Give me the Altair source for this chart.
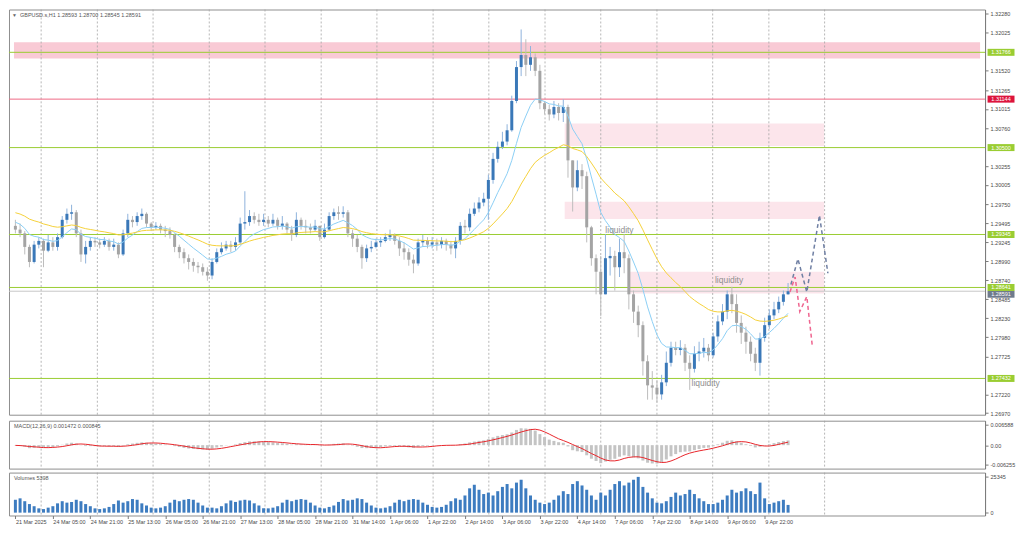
import json
import altair as alt
import pandas as pd
import numpy as np

# ---------------- data (GBPUSD, 2-hour candles) ----------------
first_open = 1.2946
close = [1.2941, 1.2936, 1.2918, 1.2898, 1.2921, 1.2926, 1.2913, 1.2924, 1.2918, 1.2931,
         1.2954, 1.2962, 1.2964, 1.2936, 1.2908, 1.2918, 1.2926, 1.2924, 1.2921, 1.2926,
         1.2918, 1.2921, 1.2908, 1.2936, 1.2954, 1.2951, 1.2959, 1.2962, 1.2949, 1.2944,
         1.2946, 1.2941, 1.2939, 1.2934, 1.2918, 1.2911, 1.2903, 1.2898, 1.2893, 1.2891,
         1.2885, 1.2880, 1.2898, 1.2911, 1.2916, 1.2921, 1.2918, 1.2924, 1.2949, 1.2951,
         1.2959, 1.2954, 1.2951, 1.2954, 1.2949, 1.2954, 1.2946, 1.2949, 1.2941, 1.2934,
         1.2954, 1.2946, 1.2944, 1.2941, 1.2946, 1.2931, 1.2941, 1.2959, 1.2964, 1.2962,
         1.2964, 1.2936, 1.2929, 1.2918, 1.2903, 1.2916, 1.2918, 1.2924, 1.2926, 1.2931,
         1.2934, 1.2926, 1.2916, 1.2911, 1.2901, 1.2896, 1.2924, 1.2926, 1.2921, 1.2924,
         1.2921, 1.2926, 1.2921, 1.2916, 1.2926, 1.2946, 1.2944, 1.2962, 1.2969, 1.2977,
         1.2982, 1.3007, 1.3035, 1.3051, 1.3058, 1.3073, 1.3112, 1.3157, 1.3173, 1.3160,
         1.3170, 1.3152, 1.3109, 1.3101, 1.3094, 1.3104, 1.3096, 1.3104, 1.3033, 1.2997,
         1.3020, 1.3012, 1.2944, 1.2903, 1.2885, 1.2855, 1.2903, 1.2906, 1.2891, 1.2911,
         1.2903, 1.2855, 1.2832, 1.2814, 1.2766, 1.2734, 1.2731, 1.2722, 1.2738, 1.2764,
         1.2784, 1.2781, 1.2784, 1.2764, 1.2756, 1.2776, 1.2779, 1.2784, 1.2774, 1.2799,
         1.2819, 1.2832, 1.2855, 1.2842, 1.2817, 1.2804, 1.2792, 1.2776, 1.2764, 1.2797,
         1.2814, 1.2827, 1.2835, 1.2845, 1.2855, 1.28591]
high = [1.2954, 1.2949, 1.2939, 1.2921, 1.2926, 1.2931, 1.2929, 1.2934, 1.2931, 1.2936,
        1.2959, 1.2969, 1.2974, 1.2967, 1.2941, 1.2926, 1.2931, 1.2931, 1.2929, 1.2931,
        1.2929, 1.2929, 1.2924, 1.2941, 1.2962, 1.2959, 1.2964, 1.2969, 1.2964, 1.2951,
        1.2951, 1.2949, 1.2946, 1.2944, 1.2936, 1.2921, 1.2916, 1.2908, 1.2903, 1.2898,
        1.2896, 1.2891, 1.2903, 1.2916, 1.2924, 1.2926, 1.2926, 1.2931, 1.2957, 1.2992,
        1.2967, 1.2964, 1.2962, 1.2962, 1.2959, 1.2962, 1.2957, 1.2959, 1.2951, 1.2946,
        1.2964, 1.2957, 1.2954, 1.2949, 1.2954, 1.2946, 1.2949, 1.2964, 1.2969, 1.2972,
        1.2972, 1.2967, 1.2941, 1.2934, 1.2921, 1.2921, 1.2926, 1.2929, 1.2931, 1.2936,
        1.2941, 1.2936, 1.2931, 1.2924, 1.2916, 1.2908, 1.2929, 1.2934, 1.2931, 1.2931,
        1.2929, 1.2931, 1.2929, 1.2926, 1.2931, 1.2951, 1.2954, 1.2969, 1.2977, 1.2984,
        1.2990, 1.3014, 1.3043, 1.3058, 1.3071, 1.3081, 1.3119, 1.3165, 1.3207, 1.3194,
        1.3185, 1.3175, 1.3160, 1.3112, 1.3107, 1.3112, 1.3109, 1.3114, 1.3107, 1.3033,
        1.3033, 1.3028, 1.3018, 1.2946, 1.2908, 1.2906, 1.2935, 1.2918, 1.2913, 1.2929,
        1.2935, 1.2908, 1.2860, 1.2840, 1.2819, 1.2774, 1.2753, 1.2741, 1.2748, 1.2779,
        1.2792, 1.2792, 1.2794, 1.2789, 1.2774, 1.2786, 1.2792, 1.2797, 1.2789, 1.2804,
        1.2827, 1.2842, 1.2860, 1.2865, 1.2855, 1.2827, 1.2812, 1.2799, 1.2784, 1.2804,
        1.2824, 1.2835, 1.2845, 1.2852, 1.2860, 1.28700]
low = [1.2936, 1.2931, 1.2908, 1.2891, 1.2896, 1.2916, 1.2891, 1.2911, 1.2913, 1.2913,
       1.2929, 1.2949, 1.2954, 1.2931, 1.2898, 1.2896, 1.2913, 1.2918, 1.2916, 1.2918,
       1.2913, 1.2913, 1.2903, 1.2906, 1.2931, 1.2944, 1.2946, 1.2954, 1.2944, 1.2939,
       1.2941, 1.2936, 1.2931, 1.2929, 1.2911, 1.2903, 1.2896, 1.2888, 1.2885, 1.2883,
       1.2880, 1.2873, 1.2875, 1.2896, 1.2908, 1.2913, 1.2911, 1.2913, 1.2921, 1.2941,
       1.2946, 1.2949, 1.2946, 1.2946, 1.2944, 1.2946, 1.2941, 1.2941, 1.2936, 1.2926,
       1.2931, 1.2941, 1.2936, 1.2936, 1.2939, 1.2926, 1.2929, 1.2939, 1.2954, 1.2954,
       1.2957, 1.2931, 1.2918, 1.2911, 1.2889, 1.2898, 1.2911, 1.2916, 1.2918, 1.2924,
       1.2926, 1.2921, 1.2906, 1.2901, 1.2893, 1.2883, 1.2893, 1.2918, 1.2916, 1.2916,
       1.2913, 1.2916, 1.2913, 1.2908, 1.2903, 1.2921, 1.2936, 1.2939, 1.2959, 1.2964,
       1.2972, 1.2954, 1.3002, 1.3030, 1.3048, 1.3053, 1.3071, 1.3109, 1.3145, 1.3145,
       1.3152, 1.3145, 1.3101, 1.3094, 1.3086, 1.3089, 1.3086, 1.3084, 1.3010, 1.2965,
       1.2992, 1.2995, 1.2924, 1.2893, 1.2855, 1.2826, 1.2855, 1.2880, 1.2860, 1.2878,
       1.2883, 1.2835, 1.2817, 1.2798, 1.2747, 1.2715, 1.2715, 1.2711, 1.2715, 1.2733,
       1.2759, 1.2774, 1.2774, 1.2753, 1.2728, 1.2751, 1.2766, 1.2771, 1.2766, 1.2771,
       1.2792, 1.2814, 1.2822, 1.2830, 1.2804, 1.2789, 1.2776, 1.2766, 1.2753, 1.2747,
       1.2792, 1.2809, 1.2822, 1.2830, 1.2840, 1.28545]
volume = [9000, 10000, 8000, 6000, 4500, 3000,
          2500, 3500, 4500, 6500, 8000, 7000, 7500, 9000, 8000, 6000, 4500, 3000,
          2500, 3000, 4000, 6000, 8500, 7000, 8000, 9500, 9000, 6500, 5000, 3500,
          3000, 3500, 4500, 7000, 9000, 8000, 9000, 9500, 9000, 7000, 5000, 3500,
          3500, 3000, 4500, 6500, 8500, 7500, 8500, 9000, 8500, 6500, 5000, 3000,
          3000, 3500, 4500, 7000, 9000, 8000, 9000, 9500, 9000, 7000, 5000, 3500,
          3000, 4000, 5000, 7500, 9500, 8500, 9000, 10000, 9500, 7000, 5000, 3500,
          3000, 3500, 4500, 7000, 9000, 8000, 9000, 9500, 9000, 7000, 5500, 4000,
          3500, 4000, 5500, 8000, 10000, 9000, 12000, 17000, 19500, 16000, 13000,
          14000, 12000, 15000, 18000, 20000, 17000, 21000, 23000, 17000, 12000, 9000, 7000,
          6000, 7000, 9000, 12000, 15000, 13000, 20000, 22000, 19000, 16000, 12000, 9000,
          14000, 12000, 16000, 20000, 22000, 19000, 21000, 23000, 25000, 18000, 14000, 10000,
          7000, 6500, 8000, 11000, 14000, 12000, 13000, 16000, 13000, 10000, 8000, 6000,
          6000, 7000, 9000, 12000, 16000, 14000, 15000, 17000, 15000, 13000, 21000, 10000,
          6000, 7000, 8000, 9000, 5398]

time_labels = ["21 Mar 2025", "24 Mar 05:00", "24 Mar 21:00", "25 Mar 13:00", "26 Mar 05:00",
               "26 Mar 21:00", "27 Mar 13:00", "28 Mar 05:00", "28 Mar 21:00", "31 Mar 14:00",
               "1 Apr 06:00", "1 Apr 22:00", "2 Apr 14:00", "3 Apr 06:00", "3 Apr 22:00",
               "4 Apr 14:00", "7 Apr 06:00", "7 Apr 22:00", "8 Apr 14:00", "9 Apr 06:00",
               "9 Apr 22:00"]
label_step = 8
price_ticks = [1.32280, 1.32025, 1.31520, 1.31265, 1.31015, 1.30760, 1.30255, 1.30005,
               1.29750, 1.29495, 1.29245, 1.28990, 1.28740, 1.28485, 1.28230, 1.27980,
               1.27725, 1.27220, 1.26970]
macd_ticks = [0.006588, 0.0, -0.006255]
macd_tick_text = ["0.006588", "0.00", "-0.006255"]
vol_ticks = [0, 25345]
day_lines = [5.5, 17.5, 29.4, 41.4, 53.3, 65.3, 77.2, 89.2, 101.1, 113.1, 125.0,
             137.0, 148.9, 160.9, 172.8]

zone_x0 = [-0.3, 117.3, 117.3, 130.8]
zone_x1 = [206.0, 172.7, 172.7, 172.7]
zone_lo = [1.31683, 1.3052, 1.2955, 1.2856]
zone_hi = [1.31899, 1.3082, 1.2978, 1.2885]

level_price = [1.28591, 1.31766, 1.31144, 1.30500, 1.29345, 1.28641, 1.27432]
level_kind = ["now", "green", "red", "green", "green", "green", "green"]

liq_x = [129.0, 152.4, 147.4]
liq_p = [1.2941, 1.2874, 1.2737]

proj_up_x = [165.6, 167.1, 169.0, 171.7, 173.5]
proj_up_p = [1.2868, 1.2902, 1.2858, 1.2960, 1.2883]
proj_dn_x = [165.4, 166.5, 167.5, 169.0, 170.2]
proj_dn_p = [1.2858, 1.2878, 1.2832, 1.2852, 1.2785]

ma_fast_seed, ma_slow_seed = 1.2953, 1.2965   # indicator levels before the first candle

# ---------------- indicators (computed from the candles, as the platform does) ----------------
def ema(values, period, seed):
    k = 2.0 / (period + 1)
    out, v = [], seed
    for x in values:
        v = v + k * (x - v)
        out.append(v)
    return out

n = len(close)
opens = [first_open] + close[:-1]
df = pd.DataFrame({"j": np.arange(n), "open": opens, "close": close,
                   "high": high, "low": low, "vol": volume})
df["high"] = df[["high", "open", "close"]].max(axis=1)
df["low"] = df[["low", "open", "close"]].min(axis=1)
df["fast"] = ema(close, 10, ma_fast_seed)
df["slow"] = ema(close, 30, ma_slow_seed)
df["macd"] = np.array(ema(close, 6, first_open)) - np.array(ema(close, 13, first_open))
df["signal"] = df["macd"].rolling(5, min_periods=1).mean()
bull = df["close"] >= df["open"]
df["body_col"] = np.where(bull, "#3a78b8", "#a4a4a4")
df["wick_col"] = np.where(bull, "#8fb3dc", "#bdbdbd")

# ---------------- layout ----------------
F = "Liberation Sans"
W = 978
H_MAIN, H_MACD, H_VOL = 406, 48, 43
xs = alt.Scale(domain=[-0.3, 206.0], nice=False, zero=False)
ys = alt.Scale(domain=[1.26950, 1.32335], nice=False, zero=False)
ms = alt.Scale(domain=[-0.00748, 0.00781], nice=False, zero=False)
vs = alt.Scale(domain=[-2000, 28000], nice=False, zero=False)

yax = alt.Axis(orient="right", values=price_ticks, format=".5f", title=None,
               labelOverlap=False, tickSize=3, labelPadding=2)
macd_expr = "".join(f"abs(datum.value - ({v})) < 1e-7 ? '{t}' : "
                    for v, t in zip(macd_ticks, macd_tick_text)) + "''"
max_ = alt.Axis(orient="right", values=macd_ticks, labelExpr=macd_expr, title=None,
                labelOverlap=False, tickSize=3, labelPadding=2)
vax = alt.Axis(orient="right", values=vol_ticks, format="d", title=None,
               labelOverlap=False, tickSize=3, labelPadding=2)
xax = alt.Axis(values=list(range(0, label_step * len(time_labels), label_step)),
               labelExpr=f"{json.dumps(time_labels)}[round(datum.value / {label_step})]",
               labelAlign="left", labelFlush=False, labelOverlap=False, title=None,
               tickSize=3, labelPadding=1, domain=False)

X0 = alt.X("j:Q", scale=xs, axis=None)
grid_df = pd.DataFrame({"g": day_lines})

# main panel
zdf = pd.DataFrame({"x0": zone_x0, "x1": zone_x1, "lo": zone_lo, "hi": zone_hi,
                    "c": ["#f9cad5", "#fce5eb", "#fce5eb", "#fce5eb"]})
zones = alt.Chart(zdf).mark_rect().encode(
    x=alt.X("x0:Q", scale=xs, axis=None), x2="x1:Q",
    y=alt.Y("lo:Q", scale=ys, axis=yax), y2="hi:Q", color=alt.Color("c:N", scale=None))
grid_main = alt.Chart(grid_df).mark_rule(strokeDash=[2, 2], color="#a3a3a3", strokeWidth=0.8).encode(
    x=alt.X("g:Q", scale=xs, axis=None))
line_col = {"now": "#c8c8c8", "green": "#9acd32", "red": "#ef6a86"}
box_col = {"now": "#6f7b8c", "green": "#9acd32", "red": "#dc143c"}
box_shift = {"now": 3, "green": 0, "red": 0}   # the platform nudges the current-price tag below
ldf = pd.DataFrame({"p": level_price, "k": level_kind})
ldf["c"] = ldf["k"].map(line_col)
ldf["bc"] = ldf["k"].map(box_col)
ldf["t"] = ldf["p"].map(lambda v: f"{v:.5f}")
levels = alt.Chart(ldf).mark_rule(strokeWidth=1).encode(
    y=alt.Y("p:Q", scale=ys, axis=yax), color=alt.Color("c:N", scale=None))
wicks = alt.Chart(df).mark_rule(strokeWidth=1).encode(
    x=X0, y=alt.Y("low:Q", scale=ys, axis=yax), y2="high:Q",
    color=alt.Color("wick_col:N", scale=None))
bodies = alt.Chart(df).mark_bar(width=3).encode(
    x=X0, y=alt.Y("open:Q", scale=ys, axis=yax), y2="close:Q",
    color=alt.Color("body_col:N", scale=None))
fast = alt.Chart(df).mark_line(strokeWidth=1, color="#8ccff5").encode(
    x=X0, y=alt.Y("fast:Q", scale=ys, axis=yax))
slow = alt.Chart(df).mark_line(strokeWidth=1, color="#f5d13a").encode(
    x=X0, y=alt.Y("slow:Q", scale=ys, axis=yax))
pdf = pd.concat([
    pd.DataFrame({"x": proj_up_x, "p": proj_up_p, "s": "up", "c": "#6f7fa3"}),
    pd.DataFrame({"x": proj_dn_x, "p": proj_dn_p, "s": "dn", "c": "#ef6690"}),
])
pdf["o"] = pdf.groupby("s").cumcount()
proj = alt.Chart(pdf).mark_line(strokeDash=[4, 3], strokeWidth=1.5).encode(
    x=alt.X("x:Q", scale=xs, axis=None), y=alt.Y("p:Q", scale=ys, axis=yax),
    color=alt.Color("c:N", scale=None), detail="s:N", order="o:Q")
liq = alt.Chart(pd.DataFrame({"x": liq_x, "p": liq_p, "t": ["liquidity"] * 3})).mark_text(
    font=F, fontSize=8.5, color="#8e8e8e").encode(
    x=alt.X("x:Q", scale=xs, axis=None), y=alt.Y("p:Q", scale=ys, axis=yax), text="t:N")
title = alt.Chart(pd.DataFrame({"t": ["GBPUSD.s,H1  1.28593 1.28700 1.28545 1.28591"]})).mark_text(
    font=F, fontSize=5.5, color="#555555", align="left", baseline="middle").encode(
    x=alt.value(11), y=alt.value(6), text="t:N")
tri = alt.Chart(pd.DataFrame({"t": ["▼"]})).mark_text(
    fontSize=5, color="#666666", align="left", baseline="middle").encode(
    x=alt.value(3), y=alt.value(6), text="t:N")
boxes = []
for _, r in ldf.iterrows():
    one = alt.Chart(pd.DataFrame([r])).encode(y=alt.Y("p:Q", scale=ys, axis=yax))
    dy = box_shift[r["k"]]
    boxes.append(one.mark_tick(orient="horizontal", size=27, thickness=7, opacity=1,
                               color=r["bc"], yOffset=dy).encode(x=alt.value(W + 16)))
    boxes.append(one.mark_text(font=F, fontSize=5.5, color="white", align="center",
                               baseline="middle", yOffset=dy).encode(x=alt.value(W + 16), text="t:N"))
main = alt.layer(zones, grid_main, levels, wicks, bodies, fast, slow, proj, liq, title, tri,
                 *boxes).properties(width=W, height=H_MAIN)

# MACD panel
grid_m = alt.Chart(grid_df).mark_rule(strokeDash=[2, 2], color="#a3a3a3", strokeWidth=0.8).encode(
    x=alt.X("g:Q", scale=xs, axis=None))
mbars = alt.Chart(df).mark_bar(width=3, color="#c4c4c4").encode(
    x=X0, y=alt.Y("macd:Q", scale=ms, axis=max_), y2=alt.datum(0))
msig = alt.Chart(df).mark_line(color="#e8262b", strokeWidth=1).encode(
    x=X0, y=alt.Y("signal:Q", scale=ms, axis=max_))
mlab = alt.Chart(pd.DataFrame({"t": ["MACD(12,26,9) 0.001472 0.000845"]})).mark_text(
    font=F, fontSize=5.5, color="#555555", align="left", baseline="middle").encode(
    x=alt.value(5), y=alt.value(5), text="t:N")
macd = alt.layer(grid_m, mbars, msig, mlab).properties(width=W, height=H_MACD)

# Volume panel
XV = alt.X("j:Q", scale=xs, axis=xax)
grid_v = alt.Chart(grid_df).mark_rule(strokeDash=[2, 2], color="#a3a3a3", strokeWidth=0.8).encode(
    x=alt.X("g:Q", scale=xs, axis=xax))
vbars = alt.Chart(df).mark_bar(width=3, color="#3d7cc0").encode(
    x=XV, y=alt.Y("vol:Q", scale=vs, axis=vax), y2=alt.datum(0))
vlab = alt.Chart(pd.DataFrame({"t": ["Volumes 5398"]})).mark_text(
    font=F, fontSize=5.5, color="#555555", align="left", baseline="middle").encode(
    x=alt.value(5), y=alt.value(5), text="t:N")
vol = alt.layer(grid_v, vbars, vlab).properties(width=W, height=H_VOL)

chart = alt.vconcat(main, macd, vol, spacing=2).properties(
    padding={"left": 0, "top": 0, "right": 0, "bottom": 0}, background="white"
).configure_view(stroke="#8f8f8f", strokeWidth=1).configure_axis(
    labelFont=F, labelFontSize=5.5, labelColor="#4a4a4a", tickColor="#7a7a7a",
    domainColor="#7a7a7a", grid=False)

chart.save("out.html", embed_options={"renderer": "svg", "actions": False})
